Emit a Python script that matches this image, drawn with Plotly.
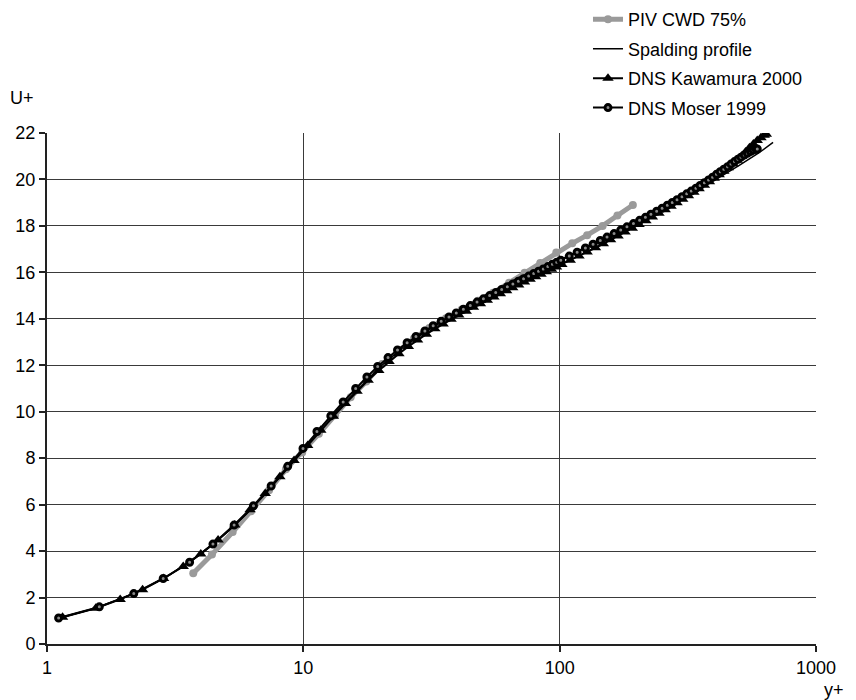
import plotly.graph_objects as go

# PIV measurement (CWD, 75% station)
piv_yplus = [3.72, 4.40, 5.30, 6.25, 7.35, 8.55, 9.90, 11.5, 13.3, 15.3, 17.6, 20.3,
             23.4, 27.0, 31.0, 36.0, 41.5, 48.0, 55.0, 63.5, 73.0, 84.0, 97.0, 112,
             128, 147, 168, 193]
piv_uplus = [3.05, 3.85, 4.82, 5.72, 6.62, 7.52, 8.25, 9.05, 9.85, 10.62, 11.30, 12.05,
             12.60, 13.15, 13.60, 14.02, 14.40, 14.78, 15.12, 15.55, 15.98, 16.40, 16.85,
             17.25, 17.60, 18.00, 18.45, 18.90]

# Spalding law-of-the-wall profile
spalding_yplus = [1.1, 1.5, 2.0, 2.5, 3.0, 4.0, 5.0, 6.0, 7.0, 8.0, 10, 12, 15, 20, 25,
                  30, 40, 50, 70, 100, 150, 200, 300, 400, 500, 600, 680]
spalding_uplus = [1.1, 1.5, 2.0, 2.49, 2.97, 3.90, 4.78, 5.60, 6.38, 7.12, 8.38, 9.45,
                  10.55, 11.95, 12.85, 13.45, 14.30, 14.95, 15.80, 16.50, 17.45, 18.15,
                  19.20, 19.95, 20.60, 21.15, 21.60]

# DNS channel flow, Kawamura 2000 (Re_tau = 640)
kawamura_yplus = [1.15, 1.55, 1.93, 2.36, 2.85, 3.40, 3.98, 4.65, 5.40, 6.20, 7.10, 8.10,
                  9.20, 10.4, 11.7, 13.1, 14.6, 16.2, 17.9, 19.7, 21.6, 23.6, 25.7, 27.9,
                  30.2, 32.6, 35.1, 37.7, 40.4, 43.2, 46.1, 49.1, 52.2, 55.4, 58.7, 62.1,
                  65.6, 69.2, 72.9, 76.7, 80.6, 84.6, 88.7, 92.9, 97.2, 102, 110, 119,
                  128, 138, 148, 158, 169, 180, 192, 204, 217, 230, 244, 258, 272, 287,
                  302, 318, 334, 350, 367, 384, 401, 419, 437, 455, 474, 493, 512, 531,
                  550, 570, 590, 610, 628, 640]
kawamura_uplus = [1.15, 1.54, 1.92, 2.34, 2.82, 3.34, 3.88, 4.48, 5.12, 5.78, 6.48, 7.20,
                  7.90, 8.55, 9.20, 9.80, 10.35, 10.88, 11.36, 11.78, 12.16, 12.50, 12.81,
                  13.09, 13.34, 13.57, 13.78, 13.98, 14.16, 14.33, 14.50, 14.65, 14.80,
                  14.94, 15.08, 15.21, 15.34, 15.46, 15.58, 15.70, 15.81, 15.92, 16.03,
                  16.13, 16.23, 16.34, 16.52, 16.70, 16.88, 17.06, 17.23, 17.40, 17.57,
                  17.74, 17.90, 18.06, 18.22, 18.38, 18.54, 18.70, 18.85, 19.00, 19.15,
                  19.30, 19.45, 19.60, 19.75, 19.90, 20.05, 20.20, 20.35, 20.50, 20.66,
                  20.83, 21.00, 21.18, 21.36, 21.53, 21.68, 21.80, 21.90, 21.95]

# DNS channel flow, Moser 1999 (Re_tau = 590)
moser_yplus = [1.11, 1.60, 2.18, 2.84, 3.60, 4.44, 5.37, 6.39, 7.49, 8.69, 9.97, 11.3,
               12.8, 14.3, 16.0, 17.7, 19.5, 21.4, 23.3, 25.4, 27.5, 29.8, 32.1, 34.5,
               37.0, 39.5, 42.1, 44.8, 47.6, 50.4, 53.3, 56.3, 59.4, 62.5, 65.7, 69.0,
               72.3, 75.7, 79.2, 82.7, 86.3, 89.9, 93.7, 97.4, 101, 109, 117, 126, 135,
               144, 153, 163, 173, 183, 194, 205, 216, 227, 239, 251, 263, 275, 287,
               300, 313, 326, 340, 353, 367, 381, 395, 409, 423, 437, 452, 466, 481,
               496, 510, 525, 540, 555, 569, 584, 590]
moser_uplus = [1.12, 1.60, 2.17, 2.82, 3.52, 4.30, 5.12, 5.95, 6.80, 7.65, 8.42, 9.15,
               9.82, 10.42, 11.00, 11.50, 11.95, 12.33, 12.66, 12.97, 13.24, 13.48,
               13.70, 13.90, 14.08, 14.25, 14.41, 14.57, 14.72, 14.86, 15.00, 15.13,
               15.26, 15.38, 15.50, 15.62, 15.73, 15.84, 15.95, 16.05, 16.15, 16.25,
               16.35, 16.44, 16.52, 16.70, 16.87, 17.05, 17.21, 17.37, 17.52, 17.67,
               17.82, 17.96, 18.10, 18.24, 18.37, 18.50, 18.63, 18.76, 18.89, 19.01,
               19.13, 19.26, 19.38, 19.50, 19.62, 19.74, 19.86, 19.98, 20.10, 20.22,
               20.33, 20.44, 20.55, 20.66, 20.77, 20.87, 20.96, 21.05, 21.13, 21.20,
               21.26, 21.30, 21.31]

x_ticks = [1, 10, 100, 1000]
y_ticks = list(range(0, 23, 2))

FONT = "Liberation Sans, Arial, sans-serif"

fig = go.Figure()

fig.add_trace(go.Scatter(
    x=piv_yplus, y=piv_uplus, name="PIV CWD 75%", mode="lines+markers",
    line=dict(color="#9a9a9a", width=5),
    marker=dict(symbol="circle", size=8, color="#9a9a9a"),
    legendgroup="piv",
))
fig.add_trace(go.Scatter(
    x=spalding_yplus, y=spalding_uplus, name="Spalding profile", mode="lines",
    line=dict(color="black", width=1.5),
    legendgroup="spalding",
))
fig.add_trace(go.Scatter(
    x=kawamura_yplus, y=kawamura_uplus, name="DNS Kawamura 2000", mode="lines+markers",
    line=dict(color="black", width=2),
    marker=dict(symbol="triangle-up", size=10, color="black"),
    legendgroup="kawamura",
))
fig.add_trace(go.Scatter(
    x=moser_yplus, y=moser_uplus, name="DNS Moser 1999", mode="lines+markers",
    line=dict(color="black", width=2),
    marker=dict(symbol="circle", size=6, color="#8a8a8a",
                line=dict(color="black", width=3)),
    legendgroup="moser",
))

axis_common = dict(
    showline=True, linecolor="#222222", linewidth=2,
    showgrid=True, gridcolor="#3a3a3a", gridwidth=1,
    ticks="outside", ticklen=6, tickcolor="#222222", tickwidth=1.5,
    tickfont=dict(family=FONT, size=18, color="black"),
    zeroline=False, mirror=False,
)

fig.update_xaxes(type="log", range=[0, 3], tickvals=x_ticks,
                 ticktext=[str(v) for v in x_ticks], **axis_common)
fig.update_yaxes(range=[0, 22], tickvals=y_ticks, **axis_common)

fig.add_annotation(text="U+", xref="paper", yref="paper", x=-0.033, y=1.068,
                   showarrow=False, xanchor="center", yanchor="middle",
                   font=dict(family=FONT, size=18, color="black"))
fig.add_annotation(text="y+", xref="paper", yref="paper", x=1.023, y=-0.09,
                   showarrow=False, xanchor="center", yanchor="middle",
                   font=dict(family=FONT, size=18, color="black"))

fig.update_layout(
    width=856, height=700,
    margin=dict(l=47, r=40, t=133, b=56, autoexpand=False),
    paper_bgcolor="white", plot_bgcolor="white",
    font=dict(family=FONT, size=18, color="black"),
    showlegend=True,
    legend=dict(x=0.7035, y=1.258, xanchor="left", yanchor="top",
                bgcolor="rgba(0,0,0,0)", font=dict(family=FONT, size=18, color="black"),
                tracegroupgap=3, itemwidth=30),
)

fig.write_html("out.html")
